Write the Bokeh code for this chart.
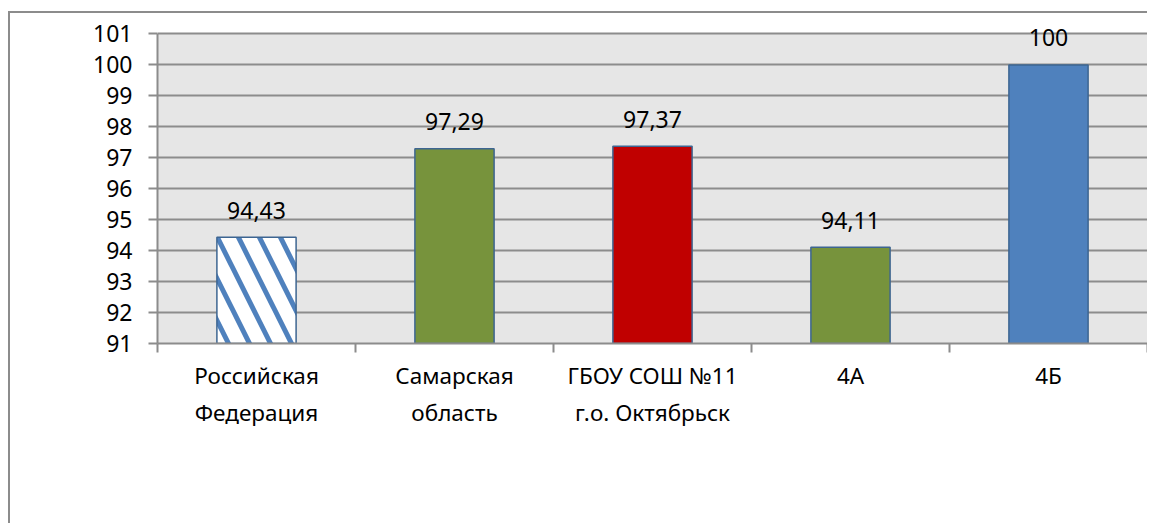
from bokeh.plotting import figure
from bokeh.models import ColumnDataSource, FixedTicker, LinearAxis, Range1d, LabelSet, BoxAnnotation
from bokeh.embed import file_html
from bokeh.resources import INLINE
from bokeh.core.properties import value

categories = ["Российская\nФедерация", "Самарская\nобласть", "ГБОУ СОШ №11\nг.о. Октябрьск", "4А", "4Б"]
values = [94.43, 97.29, 97.37, 94.11, 100]
labels = ["94,43", "97,29", "97,37", "94,11", "100"]
colors = ["#ffffff", "#77933c", "#c00000", "#77933c", "#4f81bd"]
hatches = ["\\", " ", " ", " ", " "]
y_ticks = list(range(91, 102))

Y0, Y1 = 91, 101
n = len(categories)
xs = [i + 0.5 for i in range(n)]

src = ColumnDataSource(dict(x=xs, top=values, color=colors, hatch=hatches, label=labels))

FONT = "Noto Sans"
GRID = "#8c8c8c"

p = figure(width=1139, height=512, output_backend="svg", toolbar_location=None,
           x_range=Range1d(0, n), y_range=Range1d(Y0, Y1 + 0.5),
           min_border_left=147, min_border_right=2, min_border_top=5, min_border_bottom=182,
           x_axis_location=None)
p.background_fill_color = "white"
p.border_fill_color = "white"
p.outline_line_color = None
p.styles = {"border-left": "2px solid #8c8c8c", "border-top": "2px solid #8c8c8c",
            "margin-left": "8px", "margin-top": "11px"}

# plot area background (91..101)
p.add_layout(BoxAnnotation(bottom=Y0, top=Y1, fill_color="#e6e6e6", fill_alpha=1,
                           line_color=None, level="image"))

p.xgrid.visible = False
p.ygrid.ticker = FixedTicker(ticks=y_ticks)
p.ygrid.grid_line_color = GRID
p.ygrid.grid_line_width = 2

p.yaxis.ticker = FixedTicker(ticks=y_ticks)
p.yaxis.bounds = (Y0, Y1)
p.yaxis.axis_line_color = GRID
p.yaxis.axis_line_width = 2
p.yaxis.major_tick_line_color = GRID
p.yaxis.major_tick_line_width = 2
p.yaxis.major_tick_out = 9
p.yaxis.major_tick_in = 0
p.yaxis.minor_tick_line_color = None
p.yaxis.major_label_standoff = 16
p.yaxis.major_label_text_font = FONT
p.yaxis.major_label_text_font_size = "23px"
p.yaxis.major_label_text_color = "black"

# axis with ticks at category boundaries
bounds = list(range(n + 1))
ax_b = LinearAxis(ticker=FixedTicker(ticks=bounds),
                  major_label_overrides={b: "" for b in bounds})
ax_b.axis_line_color = GRID
ax_b.axis_line_width = 2
ax_b.major_tick_line_color = GRID
ax_b.major_tick_line_width = 2
ax_b.major_tick_out = 9
ax_b.major_tick_in = 0
ax_b.minor_tick_line_color = None
ax_b.major_label_standoff = 0
p.add_layout(ax_b, "below")

# category labels axis
ax_l = LinearAxis(ticker=FixedTicker(ticks=xs),
                  major_label_overrides={x: c for x, c in zip(xs, categories)})
ax_l.axis_line_color = None
ax_l.major_tick_line_color = None
ax_l.minor_tick_line_color = None
ax_l.major_label_text_font = FONT
ax_l.major_label_text_font_size = "22.5px"
ax_l.major_label_text_color = "black"
ax_l.major_label_standoff = 1
p.add_layout(ax_l, "below")

p.vbar(x="x", top="top", bottom=Y0, width=0.4, source=src,
       fill_color="color", line_color="#3d6591", line_width=1.5,
       hatch_pattern="hatch", hatch_color="#4f81bd", hatch_weight=5, hatch_scale=42)

lbl = LabelSet(x="x", y="top", text="label", source=src, text_align="center",
               text_baseline="middle", y_offset=27, text_font=value(FONT),
               text_font_size="23px", text_color="black")
p.add_layout(lbl)

open("out.html", "w").write(file_html(p, INLINE))
